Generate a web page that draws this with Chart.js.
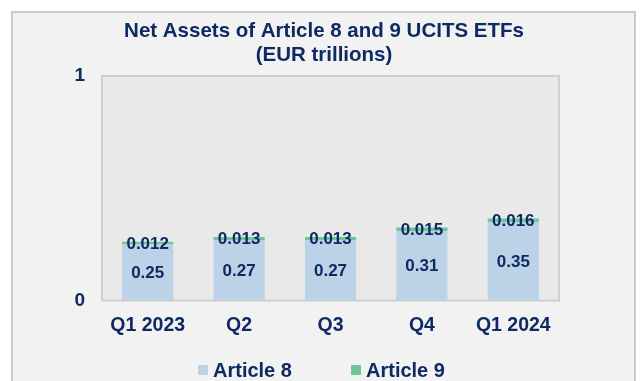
<!DOCTYPE html>
<html>
<head>
<meta charset="utf-8">
<script src="https://cdn.jsdelivr.net/npm/chart.js@4/dist/chart.umd.min.js"></script>
<style>
  html, body { margin: 0; padding: 0; background: #ffffff; }
  canvas { display: block; }
</style>
</head>
<body>
<canvas id="etfChart" width="641" height="381"></canvas>
<script>
var quarters  = ["Q1 2023", "Q2", "Q3", "Q4", "Q1 2024"];
var article8  = [0.25, 0.27, 0.27, 0.31, 0.35];
var article9  = [0.012, 0.013, 0.013, 0.015, 0.016];
var yTicks    = [0, 1];
var titleText = ["Net Assets of Article 8 and 9 UCITS ETFs", "(EUR trillions)"];

var navy = "#0e2a63";
var fontFamily = "'Liberation Sans', Arial, sans-serif";

// panel behind everything + grey plot box
var backdrop = {
	id: "backdrop",
	beforeDraw: function(chart) {
		var ctx = chart.ctx, a = chart.chartArea;
		ctx.save();
		ctx.fillStyle = "#ffffff";
		ctx.fillRect(0, 0, chart.width, chart.height);
		ctx.fillStyle = "#f2f2f2";
		ctx.fillRect(12, 12, 623, chart.height);
		ctx.strokeStyle = "#c9c9c9";
		ctx.lineWidth = 2;
		ctx.beginPath();
		ctx.moveTo(12, chart.height + 2);
		ctx.lineTo(12, 12);
		ctx.lineTo(635, 12);
		ctx.lineTo(635, chart.height + 2);
		ctx.stroke();

		ctx.fillStyle = "#e9e9e9";
		ctx.fillRect(a.left, a.top, a.right - a.left, a.bottom - a.top);
		ctx.strokeStyle = "#cfcfcf";
		ctx.strokeRect(a.left, a.top, a.right - a.left, a.bottom - a.top);
		ctx.restore();
	}
};

// two-line heading, centred on the panel rather than the plot
var heading = {
	id: "heading",
	afterDraw: function(chart) {
		var ctx = chart.ctx;
		ctx.save();
		ctx.font = "bold 20.5px " + fontFamily;
		ctx.fillStyle = navy;
		ctx.textAlign = "center";
		ctx.textBaseline = "middle";
		titleText.forEach(function(line, i) {
			ctx.fillText(line, 324, 31 + i * 24);
		});
		ctx.restore();
	}
};

// value written in the middle of each segment
var segLabels = {
	id: "segLabels",
	afterDatasetsDraw: function(chart) {
		var ctx = chart.ctx;
		ctx.save();
		ctx.font = "bold 17px " + fontFamily;
		ctx.fillStyle = navy;
		ctx.textAlign = "center";
		ctx.textBaseline = "middle";
		chart.data.datasets.forEach(function(ds, i) {
			chart.getDatasetMeta(i).data.forEach(function(bar, j) {
				var p = bar.getCenterPoint();
				ctx.fillText(String(ds.data[j]), p.x, p.y + 1);
			});
		});
		ctx.restore();
	}
};

// legend row under the axis, small square then name
var bottomLegend = {
	id: "bottomLegend",
	afterDraw: function(chart) {
		var ctx = chart.ctx;
		var x = [198, 351];
		var y = 370;
		ctx.save();
		ctx.font = "bold 20px " + fontFamily;
		ctx.textBaseline = "middle";
		ctx.textAlign = "left";
		chart.data.datasets.forEach(function(ds, i) {
			ctx.fillStyle = ds.backgroundColor;
			ctx.fillRect(x[i], y - 5, 10, 10);
			ctx.fillStyle = navy;
			ctx.fillText(ds.label, x[i] + 15, y + 1);
		});
		ctx.restore();
	}
};

var ctx = document.getElementById("etfChart").getContext("2d");
var chart = new Chart(ctx, {
	type: "bar",
	data: {
		labels: quarters,
		datasets: [
			{ label: "Article 8", data: article8, backgroundColor: "#bcd2e6" },
			{ label: "Article 9", data: article9, backgroundColor: "#6dc79b" }
		]
	},
	options: {
		responsive: false,
		animation: false,
		datasets: { bar: { categoryPercentage: 1, barPercentage: 0.56 } },
		layout: { padding: { left: 0, right: 82, top: 76, bottom: 31 } },
		plugins: {
			legend: { display: false },
			tooltip: { enabled: false },
			title: { display: false }
		},
		scales: {
			x: {
				stacked: true,
				grid: { display: false, drawTicks: false },
				border: { display: false },
				ticks: {
					color: navy,
					padding: 13,
					font: { family: fontFamily, size: 19.5, weight: "bold" }
				}
			},
			y: {
				stacked: true,
				min: yTicks[0],
				max: yTicks[yTicks.length - 1],
				afterBuildTicks: function(scale) {
					scale.ticks = yTicks.map(function(v) { return { value: v }; });
				},
				afterFit: function(scale) { scale.width = 102; },
				grid: { display: false, drawTicks: false },
				border: { display: false },
				ticks: {
					color: navy,
					padding: 17,
					font: { family: fontFamily, size: 19, weight: "bold" }
				}
			}
		}
	},
	plugins: [backdrop, heading, segLabels, bottomLegend]
});
</script>
</body>
</html>
